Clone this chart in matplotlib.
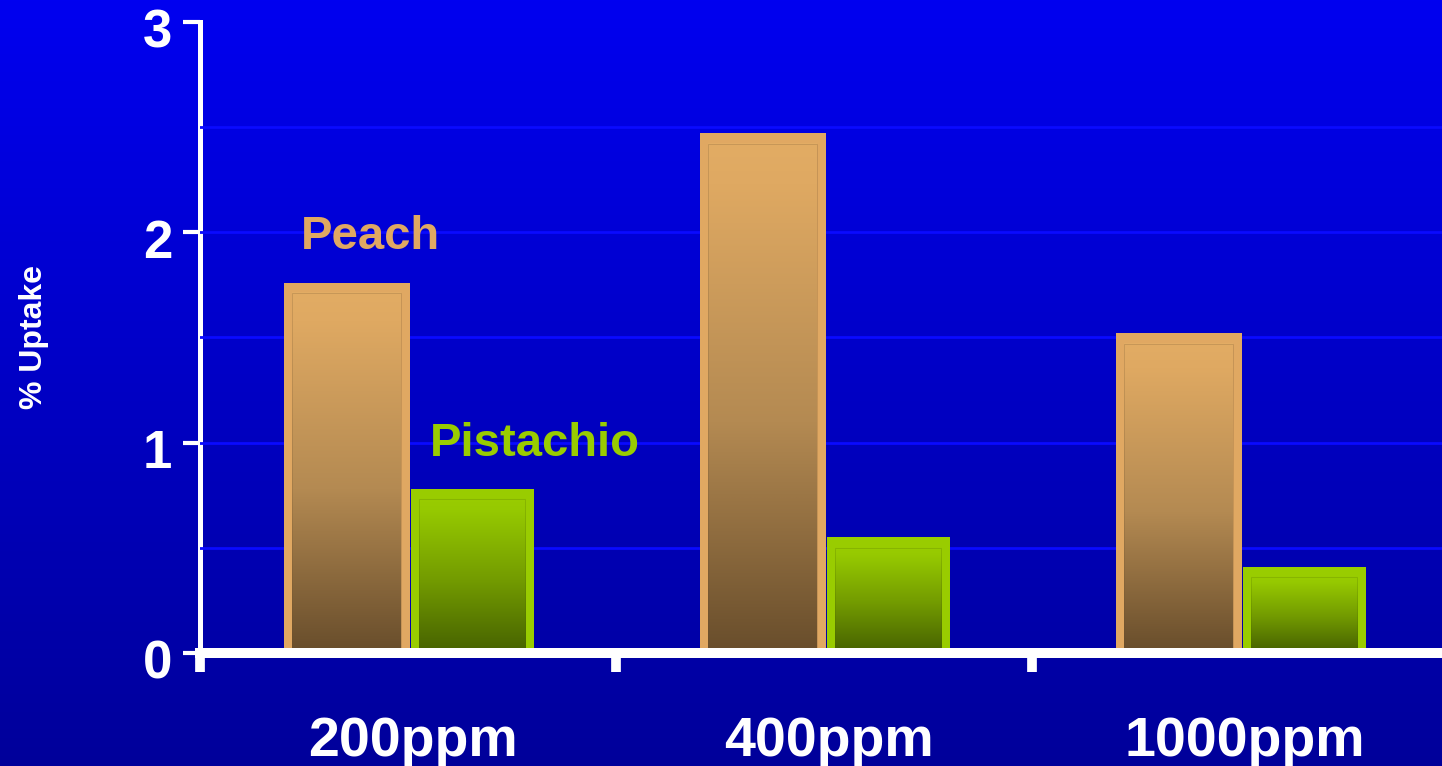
import numpy as np
import matplotlib
matplotlib.use("Agg")
import matplotlib.pyplot as plt
from matplotlib.colors import LinearSegmentedColormap
from matplotlib.ticker import MultipleLocator
from matplotlib.transforms import ScaledTranslation

plt.rcParams['font.family'] = ['Liberation Sans', 'DejaVu Sans']
plt.rcParams['font.weight'] = 'bold'

# data
categories = ['200ppm', '400ppm', '1000ppm']
peach = [1.76, 2.47, 1.52]
pistachio = [0.78, 0.55, 0.41]
y_ticks = [0, 1, 2, 3]

# colours
peach_edge = '#E0A862'
peach_stops = ['#E2AC64', '#DFA962', '#B48A52', '#694E2C']
pist_edge = '#99CC00'
pist_stops = ['#99CC00', '#96C900', '#729A00', '#486400']

fig = plt.figure(figsize=(14.42, 7.66), dpi=100)

# blue gradient background
bg = fig.add_axes([0, 0, 1, 1], zorder=-5)
bg_cmap = LinearSegmentedColormap.from_list('bg', ['#0000F0', '#00009A'])
bg.imshow(np.linspace(0, 1, 256).reshape(-1, 1), cmap=bg_cmap, aspect='auto',
          extent=(0, 1, 0, 1))
bg.set_axis_off()

ax = fig.add_axes([0.1387, 0.1475, 0.8655, 0.8238])
ax.set_facecolor('none')

x = np.arange(len(categories)) + 0.5
w = 0.302
b1 = ax.bar(x - w / 2 + 0.004, peach, w, color=peach_edge, zorder=3)
b2 = ax.bar(x + w / 2 + 0.004, pistachio, w - 0.006, color=pist_edge, zorder=3)

# gradient fill inside each bar, leaving a light border
grad = np.linspace(0, 1, 256).reshape(-1, 1)
def fill_gradient(bars, stops):
    cmap = LinearSegmentedColormap.from_list(
        'g', list(zip([0, 0.08, 0.55, 1], stops)), N=256)
    for p in bars:
        l = p.get_x() + 0.019
        r = p.get_x() + p.get_width() - 0.021
        t = p.get_height() - 0.05
        ax.imshow(grad, cmap=cmap, aspect='auto', extent=(l, r, 0.012, t),
                  zorder=4)
        ax.add_patch(plt.Rectangle((l, 0.012), r - l, t - 0.012, fill=False,
                                   ec=stops[-1], lw=0.6, alpha=0.25, zorder=5))

fill_gradient(b1, peach_stops)
fill_gradient(b2, pist_stops)

ax.set_xlim(0, 3)
ax.set_ylim(0, 3)

# grid every half unit
ax.set_yticks(y_ticks)
ax.yaxis.set_minor_locator(MultipleLocator(0.5))
ax.grid(axis='y', which='both', color='#0A0AFF', lw=2, zorder=1)
ax.get_ygridlines()[-1].set_visible(False)
ax.tick_params(axis='y', which='minor', length=0)
ax.tick_params(axis='y', which='major', length=12, width=3, color='white',
               labelcolor='white', labelsize=38, pad=8)
for lab in ax.get_yticklabels():
    lab.set_transform(lab.get_transform() + ScaledTranslation(0, -0.06, fig.dpi_scale_trans))

ax.set_xticks([0, 1, 2, 3])
ax.set_xticklabels([])
ax.set_xticks(x, minor=True)
ax.set_xticklabels(categories, minor=True)
ax.tick_params(axis='x', which='major', length=14, width=7, color='white')
ax.tick_params(axis='x', which='minor', length=0, labelcolor='white',
               labelsize=40, pad=45)
for lab in ax.get_xticklabels(minor=True):
    lab.set_transform(lab.get_transform() + ScaledTranslation(0.05, 0, fig.dpi_scale_trans))

for s in ['top', 'right']:
    ax.spines[s].set_visible(False)
ax.spines['left'].set_color('white')
ax.spines['left'].set_linewidth(3.6)
ax.spines['bottom'].set_color('white')
ax.spines['bottom'].set_linewidth(7.2)
ax.spines['bottom'].set_zorder(6)
ax.set_axisbelow(False)

ax.set_ylabel('% Uptake', color='white', fontsize=23, fontweight='bold')
ax.yaxis.set_label_coords(-0.121, 0.5)

ax.text(0.41, 1.98, 'Peach', color=peach_edge, fontsize=34, ha='center',
        va='center', zorder=6)
ax.text(0.805, 0.995, 'Pistachio', color=pist_edge, fontsize=34, ha='center',
        va='center', zorder=6)

fig.savefig('out.png', dpi=100)
